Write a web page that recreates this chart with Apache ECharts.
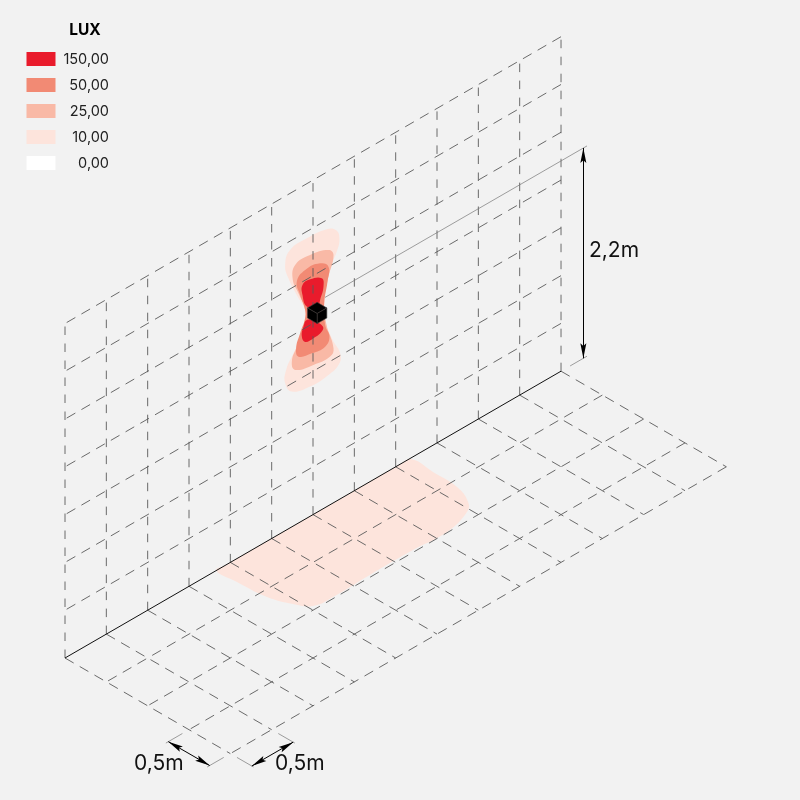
<!DOCTYPE html>
<html><head><meta charset="utf-8">
<style>html,body{margin:0;padding:0;background:#f2f2f2;overflow:hidden}#c{width:800px;height:800px}</style>
<script src="https://cdn.jsdelivr.net/npm/echarts@6/dist/echarts.min.js"></script>
</head><body><div id="c"></div>
<script>
// ---- data: all lengths in metres ----
const legendLabels = ['150,00','50,00','25,00','10,00','0,00'];
const legendColors = ['#e91b2c','#f28a74','#f9b9a6','#fde4dc','#ffffff'];
const wallLength = 6, wallHeight = 3.5, floorDepth = 2, gridStep = 0.5;
const mountHeight = 2.2;
const lamp = [3.05, 2.085];           // position on wall (u, v)
const lampSize = [0.117, 0.105];
// iso-lux contours on the wall, offsets (du, dv) from the lamp
const wall10 = [[-.145,.104],[-.246,.311],[-.347,.536],[-.387,.696],[-.327,.822],[-.125,.843],[.117,.817],[.230,.750],[.270,.642],[.238,.523],[.157,.389],[.097,.122],
  [.097,-.122],[.177,-.354],[.278,-.561],[.270,-.661],[.137,-.717],[-.085,-.728],[-.306,-.670],[-.387,-.542],[-.375,-.409],[-.286,-.279],[-.185,-.155],[-.145,.034]];
const wall25 = [[-.145,.104],[-.226,.319],[-.294,.492],[-.266,.635],[-.085,.649],[.137,.590],[.198,.508],[.137,.311],[.085,.094],
  [.109,-.162],[.198,-.468],[.157,-.535],[-.044,-.522],[-.266,-.463],[-.306,-.356],[-.246,-.229],[-.165,-.060]];
const wall50 = [[-.145,.104],[-.206,.291],[-.246,.451],[-.145,.522],[.036,.501],[.137,.416],[.125,.265],[.085,.059],
  [.097,-.174],[.149,-.322],[.097,-.401],[-.065,-.390],[-.226,-.344],[-.254,-.243],[-.206,-.110],[-.145,.017]];
const wall150Up = [[-.125,.129],[-.177,.277],[-.177,.381],[-.085,.394],[.056,.334],[.077,.237],[.036,.118],[0,.05]];
const wall150Down = [[-.024,-.078],[.069,-.177],[.056,-.223],[-.044,-.243],[-.145,-.231],[-.185,-.155],[-.165,-.060],[-.125,-.011]];
// iso-lux contour on the floor (u, w)
const floor10 = [[1.828,0],[1.95,0],[3,0],[4.05,0],[4.176,0.02],[4.171,.28],[4.16,.582],[4.07,.806],[3.958,.904],[3.628,.992],[3.234,.975],[2.752,.974],[2.259,.983],[2.044,.956],[1.944,.814],[1.86,.584],[1.835,.245]];
const dimLabels = ['2,2m','0,5m','0,5m'];

// ---- projection from metres to the chart's value axes ----
const P = {x0:65, y0:658, ux:82.67, uy:47.8, vy:95.57};
const proj = (u,v,w) => [P.x0 + P.ux*(u+w), P.y0 - P.uy*(u-w) - P.vy*v];
const onWall = (u,v) => proj(u,v,0);
const onFloor = (u,w) => proj(u,0,w);

const series = [];
const dashV = {width:0.9, color:'#5a5a5a', type:[8.5,8.5]};
const dashD = {width:0.9, color:'#5a5a5a', type:[10,7]};
function line(a,b,style){
  series.push({type:'line', data:[a,b], symbol:'none', silent:true, animation:false, z:3,
    lineStyle:style, clip:false});
}
function polys(name,color,rings,z,extra){
  series.push({type:'custom', name, coordinateSystem:'cartesian2d', silent:true, animation:false, z:z||2,
    itemStyle:{color}, data:rings.map((r,i)=>[i]), encode:{x:0,y:0},
    renderItem:(p,api)=>({type:'polygon',
      shape:{points:rings[p.dataIndex].map(q=>api.coord(q)), smooth:(extra&&extra.smooth!==undefined)?extra.smooth:0.45},
      style:Object.assign({fill:color}, extra&&extra.style)})});
}
const wallRing = c => c.map(d=>onWall(lamp[0]+d[0], lamp[1]+d[1]));
polys('10,00',legendColors[3],[wallRing(wall10), floor10.map(d=>onFloor(d[0],d[1]))]);
polys('25,00',legendColors[2],[wallRing(wall25)]);
polys('50,00',legendColors[1],[wallRing(wall50)]);
polys('150,00',legendColors[0],[wallRing(wall150Up),wallRing(wall150Down)]);
polys('0,00',legendColors[4],[]);

// grid
const nU = Math.round(wallLength/gridStep), nV = Math.round(wallHeight/gridStep), nW = Math.round(floorDepth/gridStep);
for(let i=0;i<=nU;i++){ line(onWall(i*gridStep,0),onWall(i*gridStep,wallHeight),dashV);
                        line(onFloor(i*gridStep,0),onFloor(i*gridStep,floorDepth),dashD);}
for(let j=1;j<=nV;j++) line(onWall(wallLength,j*gridStep),onWall(0,j*gridStep),dashD);
for(let k=1;k<=nW;k++) line(onFloor(wallLength,k*gridStep),onFloor(0,k*gridStep),dashD);
line(onFloor(0,0),onFloor(wallLength,0),{width:1,color:'#111',type:'solid'});

// mounting height leader and dimension ticks
const thin = {width:0.7,color:'#777',type:'solid'};
line(onWall(3.145,mountHeight),onWall(6.314,mountHeight),thin);
line(onWall(6.11,0),onWall(6.314,0),thin);
line(onFloor(-.28,1.5),onFloor(-.08,1.5),thin);
line(onFloor(-.28,2),onFloor(-.08,2),thin);
line(onFloor(0,2.08),onFloor(0,2.28),thin);
line(onFloor(.5,2.08),onFloor(.5,2.28),thin);

// arrows
const arrowHead = 'path://M5 0L5 .1L5 0ZM5 14L10 28L5 25.5L0 28Z';
series.push({type:'line', data:[], symbol:'none', silent:true, animation:false, z:4,
  markLine:{silent:true, animation:false, symbol:[arrowHead,arrowHead], symbolSize:[6,30], label:{show:false},
    lineStyle:{type:'solid',color:'#000',width:1},
    data:[[{coord:onWall(6.27,0)},{coord:onWall(6.27,mountHeight)}],
          [{coord:onFloor(-.25,1.5)},{coord:onFloor(-.25,2)}],
          [{coord:onFloor(0,2.26)},{coord:onFloor(.5,2.26)}]]}});

// lamp cube
const e = lampSize[0]/2, h = lampSize[1]/2;
const c3 = (du,dw,dv)=>proj(lamp[0]+du,lamp[1]+dv,dw);
const lampFaces = [
  [c3(e,-e,h),c3(e,e,h),c3(-e,e,h),c3(-e,-e,h)],
  [c3(-e,e,h),c3(e,e,h),c3(e,e,-h),c3(-e,e,-h)],
  [c3(-e,-e,h),c3(-e,e,h),c3(-e,e,-h),c3(-e,-e,-h)]
];
polys('lamp','#000',lampFaces,5,{smooth:0,style:{stroke:'#3a3a3a',lineWidth:0.6,lineJoin:'round'}});

const chart = echarts.init(document.getElementById('c'),null,{renderer:'canvas'});
chart.setOption({
  animation:false,
  backgroundColor:'#f2f2f2',
  textStyle:{fontFamily:'Inter'},
  grid:{left:0,right:0,top:0,bottom:0},
  xAxis:{type:'value',min:0,max:800,show:false},
  yAxis:{type:'value',min:0,max:800,inverse:true,show:false},
  title:{text:'LUX',left:85,top:22,textAlign:'center',padding:0,
    textStyle:{fontFamily:'Inter',fontSize:15.5,fontWeight:'bold',color:'#000'}},
  legend:{data:legendLabels,orient:'vertical',left:26.5,top:52,padding:0,icon:'rect',itemWidth:29,itemHeight:14,itemGap:11,
    selectedMode:false,itemStyle:{borderWidth:0},
    formatter:n=>'{a|'+n+'}',
    textStyle:{rich:{a:{fontFamily:'Inter',fontSize:14.5,color:'#222',width:48.5,align:'right',padding:[1,0,0,0]}}}},
  graphic:[
    {type:'text',left:589,top:240,style:{text:dimLabels[0],font:'21px Inter',fill:'#111'}},
    {type:'text',left:134,top:753,style:{text:dimLabels[1],font:'21px Inter',fill:'#111'}},
    {type:'text',left:275,top:753,style:{text:dimLabels[2],font:'21px Inter',fill:'#111'}}
  ],
  series
});
</script></body></html>
